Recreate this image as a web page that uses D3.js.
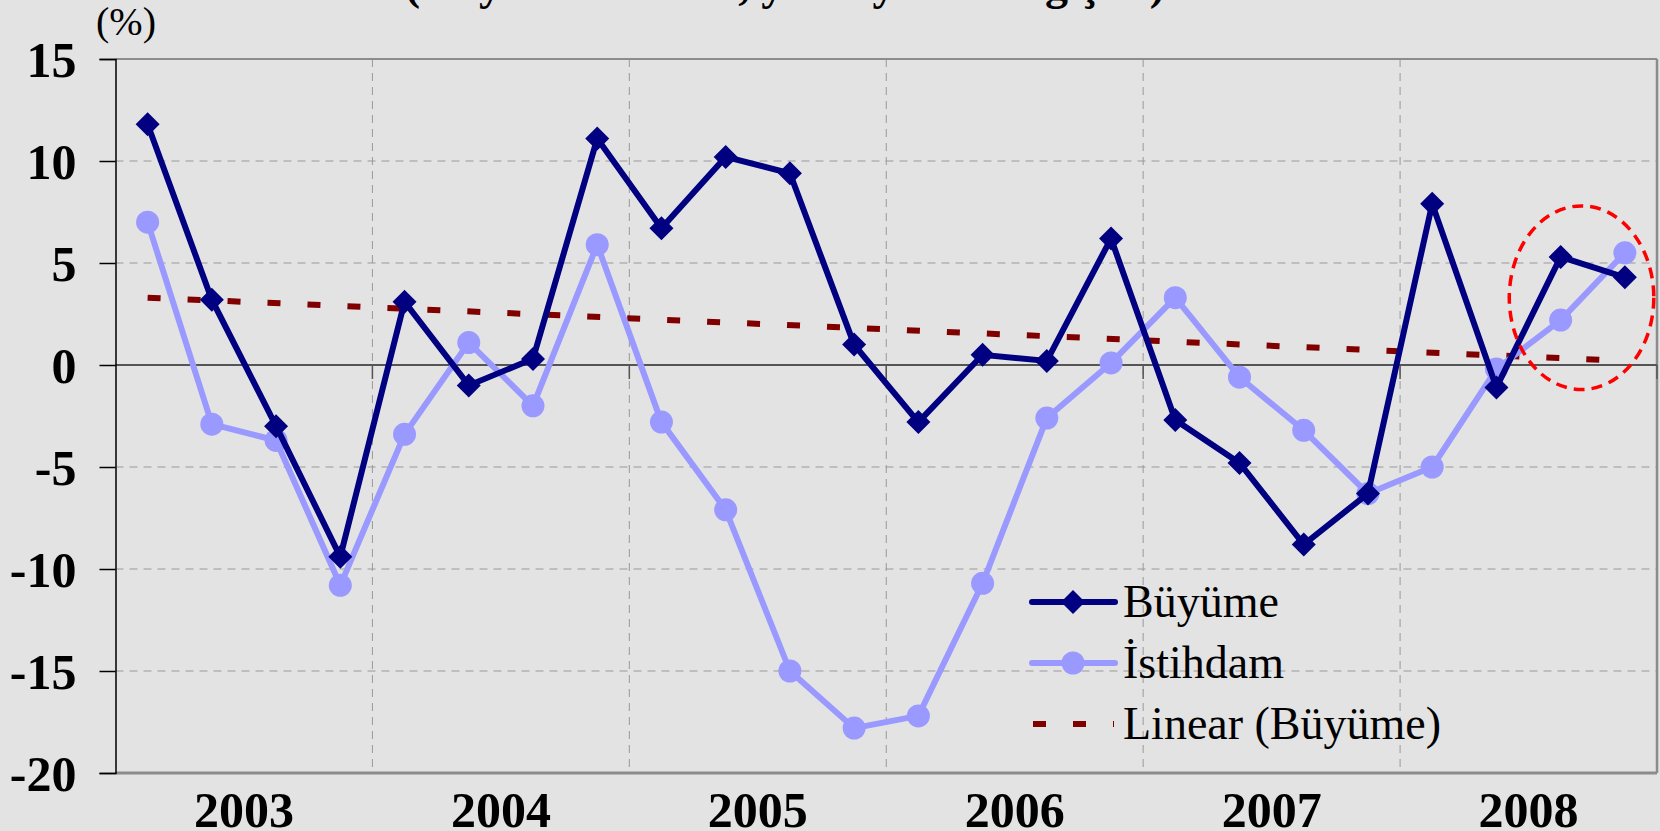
<!DOCTYPE html>
<html>
<head>
<meta charset="utf-8">
<script src="https://cdn.jsdelivr.net/npm/d3@7"></script>
<style>
  html, body { margin: 0; padding: 0; background: #e3e3e3; }
  svg { display: block; }
</style>
</head>
<body>
<div id="chart"></div>
<script>
// years on the category axis, 4 quarters each
const years = ["2003", "2004", "2005", "2006", "2007", "2008"];
const quarterNames = ["Ç1", "Ç2", "Ç3", "Ç4"];

// growth, % (quarterly, yearly change)
const buyume = [11.8, 3.2, -3.0, -9.4, 3.1, -1.0, 0.3, 11.1,
                6.7, 10.2, 9.4, 1.0, -2.8, 0.5, 0.2, 6.2,
                -2.7, -4.8, -8.8, -6.3, 7.9, -1.1, 5.3, 4.3];

// employment, %
const istihdam = [7.0, -2.9, -3.7, -10.8, -3.4, 1.1, -2.0, 5.9,
                  -2.8, -7.1, -15.0, -17.8, -17.2, -10.7, -2.6, 0.1,
                  3.3, -0.6, -3.2, -6.3, -5.0, -0.2, 2.2, 5.5];

// linear trend of growth, value at first and last quarter
const trendBuyume = [3.3, 0.2];

const yTicks = [15, 10, 5, 0, -5, -10, -15, -20];

// red dashed ring round the last quarters (quarter index / value bounds)
const ringIdx = [21.2, 23.45];
const ringVal = [-1.2, 7.8];

const legendItems = ["Büyüme", "İstihdam", "Linear (Büyüme)"];

const width = 1660, height = 831;
const margin = {top: 59, right: 3, bottom: 58, left: 115.5};
const W = width - margin.left - margin.right;
const H = height - margin.top - margin.bottom;

const quarters = [];
years.forEach(y => quarterNames.forEach(q => quarters.push(y + " " + q)));

const font = "'Times New Roman', 'Liberation Serif', serif";

const svg = d3.select("#chart").append("svg")
    .attr("width", width)
    .attr("height", height)
    .style("background", "#e3e3e3");

// cut off title (only its lower edge shows)
svg.append("text")
    .attr("x", 785)
    .attr("y", -1)
    .attr("text-anchor", "middle")
    .style("font-family", font)
    .style("font-weight", "bold")
    .style("font-size", "46px")
    .text("(Kayıtlı istihdam, yıllık yüzde değişim)");

svg.append("text")
    .attr("x", 96)
    .attr("y", 35)
    .style("font-family", font)
    .style("font-size", "40px")
    .text("(%)");

const g = svg.append("g").attr("transform", `translate(${margin.left},${margin.top})`);

const x = d3.scaleLinear().domain([-0.5, quarters.length - 0.5]).range([0, W]);
const xYear = d3.scaleBand().domain(years).range([0, W]);
const y = d3.scaleLinear().domain([-20, 15]).range([H, 0]);

// horizontal grid
g.selectAll(".hgrid")
    .data(yTicks.filter(d => d !== 15 && d !== -20 && d !== 0))
    .enter().append("line")
    .attr("x1", 0).attr("x2", W)
    .attr("y1", d => y(d)).attr("y2", d => y(d))
    .attr("stroke", "#999")
    .attr("stroke-width", 1)
    .attr("stroke-dasharray", "8,6");

// vertical grid at year boundaries
g.selectAll(".vgrid")
    .data(years.slice(1))
    .enter().append("line")
    .attr("x1", d => xYear(d)).attr("x2", d => xYear(d))
    .attr("y1", 0).attr("y2", H)
    .attr("stroke", "#999")
    .attr("stroke-width", 1)
    .attr("stroke-dasharray", "8,6");

// frame
g.append("line").attr("x1", 0).attr("x2", W).attr("y1", 0).attr("y2", 0)
    .attr("stroke", "#8c8c8c").attr("stroke-width", 2);
g.append("line").attr("x1", W).attr("x2", W).attr("y1", 0).attr("y2", H)
    .attr("stroke", "#8c8c8c").attr("stroke-width", 2.5);
g.append("line").attr("x1", 0).attr("x2", W).attr("y1", H).attr("y2", H)
    .attr("stroke", "#8c8c8c").attr("stroke-width", 3);

// zero line (category axis) with ticks pointing down
g.append("line").attr("x1", 0).attr("x2", W).attr("y1", y(0)).attr("y2", y(0))
    .attr("stroke", "#555").attr("stroke-width", 2);
g.selectAll(".xtick")
    .data(years.slice(1).map(d => xYear(d)).concat([W]))
    .enter().append("line")
    .attr("x1", d => d).attr("x2", d => d)
    .attr("y1", y(0)).attr("y2", y(0) + 14)
    .attr("stroke", "#555").attr("stroke-width", 1.5);

// y axis
const yAxis = g.append("g")
    .call(d3.axisLeft(y).tickValues(yTicks).tickSize(16).tickPadding(23).tickFormat(d => String(d)));
yAxis.select(".domain").attr("stroke", "#000").attr("stroke-width", 1.5);
yAxis.selectAll(".tick line").attr("stroke", "#000").attr("stroke-width", 1.5);
yAxis.selectAll(".tick text")
    .style("font-family", font)
    .style("font-weight", "bold")
    .style("font-size", "50px")
    .attr("fill", "#000")
    .attr("dy", "0.34em");

// year labels
g.selectAll(".year")
    .data(years)
    .enter().append("text")
    .attr("x", d => xYear(d) + xYear.bandwidth() / 2)
    .attr("y", H + 54)
    .attr("text-anchor", "middle")
    .style("font-family", font)
    .style("font-weight", "bold")
    .style("font-size", "50px")
    .text(d => d);

// trend
g.append("line")
    .attr("x1", x(0)).attr("x2", x(quarters.length - 1))
    .attr("y1", y(trendBuyume[0])).attr("y2", y(trendBuyume[1]))
    .attr("stroke", "#800000")
    .attr("stroke-width", 6)
    .attr("stroke-dasharray", "13,27");

const line = d3.line().x((d, i) => x(i)).y(d => y(d));

// employment
g.append("path")
    .datum(istihdam)
    .attr("d", line)
    .attr("fill", "none")
    .attr("stroke", "#9999ff")
    .attr("stroke-width", 6)
    .attr("stroke-linejoin", "round");
g.selectAll(".emp")
    .data(istihdam)
    .enter().append("circle")
    .attr("cx", (d, i) => x(i))
    .attr("cy", d => y(d))
    .attr("r", 11.5)
    .attr("fill", "#9999ff");

// growth
g.append("path")
    .datum(buyume)
    .attr("d", line)
    .attr("fill", "none")
    .attr("stroke", "#000080")
    .attr("stroke-width", 6)
    .attr("stroke-linejoin", "miter");
const diamond = "M0,-12L12,0L0,12L-12,0Z";
g.selectAll(".grw")
    .data(buyume)
    .enter().append("path")
    .attr("d", diamond)
    .attr("transform", (d, i) => `translate(${x(i)},${y(d)})`)
    .attr("fill", "#000080");

// highlight ring
g.append("ellipse")
    .attr("cx", (x(ringIdx[0]) + x(ringIdx[1])) / 2)
    .attr("cy", (y(ringVal[0]) + y(ringVal[1])) / 2)
    .attr("rx", (x(ringIdx[1]) - x(ringIdx[0])) / 2)
    .attr("ry", (y(ringVal[0]) - y(ringVal[1])) / 2)
    .attr("fill", "none")
    .attr("stroke", "#ff0000")
    .attr("stroke-width", 3.5)
    .attr("stroke-dasharray", "11,7");

// legend
const legend = svg.append("g").attr("transform", "translate(1032,602)");
const rowH = 61;
legendItems.forEach((name, i) => {
    const row = legend.append("g").attr("transform", `translate(0,${i * rowH})`);
    if (i === 0) {
        row.append("line").attr("x1", 0).attr("x2", 83).attr("y1", 0).attr("y2", 0)
            .attr("stroke", "#000080").attr("stroke-width", 6).attr("stroke-linecap", "round");
        row.append("path").attr("d", diamond).attr("transform", "translate(41,0)").attr("fill", "#000080");
    } else if (i === 1) {
        row.append("line").attr("x1", 0).attr("x2", 83).attr("y1", 0).attr("y2", 0)
            .attr("stroke", "#9999ff").attr("stroke-width", 6).attr("stroke-linecap", "round");
        row.append("circle").attr("cx", 41).attr("cy", 0).attr("r", 11.5).attr("fill", "#9999ff");
    } else {
        row.append("line").attr("x1", 1).attr("x2", 82).attr("y1", 0).attr("y2", 0)
            .attr("stroke", "#800000").attr("stroke-width", 6).attr("stroke-dasharray", "13,27");
    }
    row.append("text")
        .attr("x", 91)
        .attr("y", 15)
        .style("font-family", font)
        .style("font-size", "46px")
        .text(name);
});
</script>
</body>
</html>
